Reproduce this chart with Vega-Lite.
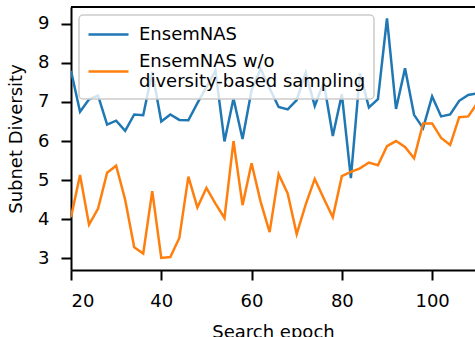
{
  "$schema": "https://vega.github.io/schema/vega-lite/v6.json",
  "width": 404,
  "height": 263,
  "autosize": {"type": "none"},
  "padding": {"left": 71, "top": 7, "right": 0, "bottom": 67},
  "background": "white",
  "config": {
    "view": {"stroke": null},
    "font": "DejaVu Sans",
    "axis": {
      "domainColor": "black",
      "domainWidth": 2,
      "tickColor": "black",
      "tickWidth": 2,
      "tickSize": 10,
      "labelColor": "black",
      "labelFontSize": 18,
      "labelFont": "DejaVu Sans",
      "titleColor": "black",
      "titleFontSize": 18,
      "titleFont": "DejaVu Sans",
      "titleFontWeight": "normal",
      "grid": false
    }
  },
  "datasets": {
    "series": [
      {"epoch": 20, "method": "EnsemNAS", "diversity": 7.8},
      {"epoch": 22, "method": "EnsemNAS", "diversity": 6.75},
      {"epoch": 24, "method": "EnsemNAS", "diversity": 7.07},
      {"epoch": 26, "method": "EnsemNAS", "diversity": 7.16},
      {"epoch": 28, "method": "EnsemNAS", "diversity": 6.42},
      {"epoch": 30, "method": "EnsemNAS", "diversity": 6.52},
      {"epoch": 32, "method": "EnsemNAS", "diversity": 6.26},
      {"epoch": 34, "method": "EnsemNAS", "diversity": 6.68},
      {"epoch": 36, "method": "EnsemNAS", "diversity": 6.66},
      {"epoch": 38, "method": "EnsemNAS", "diversity": 7.77},
      {"epoch": 40, "method": "EnsemNAS", "diversity": 6.5},
      {"epoch": 42, "method": "EnsemNAS", "diversity": 6.68},
      {"epoch": 44, "method": "EnsemNAS", "diversity": 6.54},
      {"epoch": 46, "method": "EnsemNAS", "diversity": 6.53},
      {"epoch": 48, "method": "EnsemNAS", "diversity": 6.97},
      {"epoch": 50, "method": "EnsemNAS", "diversity": 7.38},
      {"epoch": 52, "method": "EnsemNAS", "diversity": 7.8},
      {"epoch": 54, "method": "EnsemNAS", "diversity": 5.99},
      {"epoch": 56, "method": "EnsemNAS", "diversity": 7.09},
      {"epoch": 58, "method": "EnsemNAS", "diversity": 6.05},
      {"epoch": 60, "method": "EnsemNAS", "diversity": 7.3},
      {"epoch": 62, "method": "EnsemNAS", "diversity": 7.85},
      {"epoch": 64, "method": "EnsemNAS", "diversity": 7.35},
      {"epoch": 66, "method": "EnsemNAS", "diversity": 6.87},
      {"epoch": 68, "method": "EnsemNAS", "diversity": 6.81},
      {"epoch": 70, "method": "EnsemNAS", "diversity": 7.05},
      {"epoch": 72, "method": "EnsemNAS", "diversity": 7.75},
      {"epoch": 74, "method": "EnsemNAS", "diversity": 6.9},
      {"epoch": 76, "method": "EnsemNAS", "diversity": 7.5},
      {"epoch": 78, "method": "EnsemNAS", "diversity": 6.13},
      {"epoch": 80, "method": "EnsemNAS", "diversity": 7.2},
      {"epoch": 82, "method": "EnsemNAS", "diversity": 5.05},
      {"epoch": 84, "method": "EnsemNAS", "diversity": 7.73},
      {"epoch": 86, "method": "EnsemNAS", "diversity": 6.86},
      {"epoch": 88, "method": "EnsemNAS", "diversity": 7.07},
      {"epoch": 90, "method": "EnsemNAS", "diversity": 9.14},
      {"epoch": 92, "method": "EnsemNAS", "diversity": 6.82},
      {"epoch": 94, "method": "EnsemNAS", "diversity": 7.86},
      {"epoch": 96, "method": "EnsemNAS", "diversity": 6.67},
      {"epoch": 98, "method": "EnsemNAS", "diversity": 6.33},
      {"epoch": 100, "method": "EnsemNAS", "diversity": 7.14},
      {"epoch": 102, "method": "EnsemNAS", "diversity": 6.63},
      {"epoch": 104, "method": "EnsemNAS", "diversity": 6.68},
      {"epoch": 106, "method": "EnsemNAS", "diversity": 7.03},
      {"epoch": 108, "method": "EnsemNAS", "diversity": 7.18},
      {"epoch": 110, "method": "EnsemNAS", "diversity": 7.22},
      {"epoch": 20, "method": "EnsemNAS w/o diversity-based sampling", "diversity": 4.05},
      {"epoch": 22, "method": "EnsemNAS w/o diversity-based sampling", "diversity": 5.13},
      {"epoch": 24, "method": "EnsemNAS w/o diversity-based sampling", "diversity": 3.86},
      {"epoch": 26, "method": "EnsemNAS w/o diversity-based sampling", "diversity": 4.27},
      {"epoch": 28, "method": "EnsemNAS w/o diversity-based sampling", "diversity": 5.19},
      {"epoch": 30, "method": "EnsemNAS w/o diversity-based sampling", "diversity": 5.37},
      {"epoch": 32, "method": "EnsemNAS w/o diversity-based sampling", "diversity": 4.5},
      {"epoch": 34, "method": "EnsemNAS w/o diversity-based sampling", "diversity": 3.28},
      {"epoch": 36, "method": "EnsemNAS w/o diversity-based sampling", "diversity": 3.12},
      {"epoch": 38, "method": "EnsemNAS w/o diversity-based sampling", "diversity": 4.72},
      {"epoch": 40, "method": "EnsemNAS w/o diversity-based sampling", "diversity": 3.01},
      {"epoch": 42, "method": "EnsemNAS w/o diversity-based sampling", "diversity": 3.03},
      {"epoch": 44, "method": "EnsemNAS w/o diversity-based sampling", "diversity": 3.52},
      {"epoch": 46, "method": "EnsemNAS w/o diversity-based sampling", "diversity": 5.09},
      {"epoch": 48, "method": "EnsemNAS w/o diversity-based sampling", "diversity": 4.3},
      {"epoch": 50, "method": "EnsemNAS w/o diversity-based sampling", "diversity": 4.8},
      {"epoch": 52, "method": "EnsemNAS w/o diversity-based sampling", "diversity": 4.4},
      {"epoch": 54, "method": "EnsemNAS w/o diversity-based sampling", "diversity": 4.03},
      {"epoch": 56, "method": "EnsemNAS w/o diversity-based sampling", "diversity": 6.0},
      {"epoch": 58, "method": "EnsemNAS w/o diversity-based sampling", "diversity": 4.36},
      {"epoch": 60, "method": "EnsemNAS w/o diversity-based sampling", "diversity": 5.43},
      {"epoch": 62, "method": "EnsemNAS w/o diversity-based sampling", "diversity": 4.45},
      {"epoch": 64, "method": "EnsemNAS w/o diversity-based sampling", "diversity": 3.67},
      {"epoch": 66, "method": "EnsemNAS w/o diversity-based sampling", "diversity": 5.15},
      {"epoch": 68, "method": "EnsemNAS w/o diversity-based sampling", "diversity": 4.66},
      {"epoch": 70, "method": "EnsemNAS w/o diversity-based sampling", "diversity": 3.62},
      {"epoch": 72, "method": "EnsemNAS w/o diversity-based sampling", "diversity": 4.38},
      {"epoch": 74, "method": "EnsemNAS w/o diversity-based sampling", "diversity": 5.03},
      {"epoch": 76, "method": "EnsemNAS w/o diversity-based sampling", "diversity": 4.53},
      {"epoch": 78, "method": "EnsemNAS w/o diversity-based sampling", "diversity": 4.05},
      {"epoch": 80, "method": "EnsemNAS w/o diversity-based sampling", "diversity": 5.1},
      {"epoch": 82, "method": "EnsemNAS w/o diversity-based sampling", "diversity": 5.21},
      {"epoch": 84, "method": "EnsemNAS w/o diversity-based sampling", "diversity": 5.3},
      {"epoch": 86, "method": "EnsemNAS w/o diversity-based sampling", "diversity": 5.45},
      {"epoch": 88, "method": "EnsemNAS w/o diversity-based sampling", "diversity": 5.38},
      {"epoch": 90, "method": "EnsemNAS w/o diversity-based sampling", "diversity": 5.87},
      {"epoch": 92, "method": "EnsemNAS w/o diversity-based sampling", "diversity": 6.0},
      {"epoch": 94, "method": "EnsemNAS w/o diversity-based sampling", "diversity": 5.85},
      {"epoch": 96, "method": "EnsemNAS w/o diversity-based sampling", "diversity": 5.56},
      {"epoch": 98, "method": "EnsemNAS w/o diversity-based sampling", "diversity": 6.45},
      {"epoch": 100, "method": "EnsemNAS w/o diversity-based sampling", "diversity": 6.45},
      {"epoch": 102, "method": "EnsemNAS w/o diversity-based sampling", "diversity": 6.08},
      {"epoch": 104, "method": "EnsemNAS w/o diversity-based sampling", "diversity": 5.9},
      {"epoch": 106, "method": "EnsemNAS w/o diversity-based sampling", "diversity": 6.61},
      {"epoch": 108, "method": "EnsemNAS w/o diversity-based sampling", "diversity": 6.63},
      {"epoch": 110, "method": "EnsemNAS w/o diversity-based sampling", "diversity": 6.97}
    ],
    "frame": [{"top": 9.43}]
  },
  "layer": [
    {
      "data": {"name": "series"},
      "mark": {"type": "line", "strokeWidth": 2.5, "clip": true},
      "encoding": {
        "x": {
          "field": "epoch",
          "type": "quantitative",
          "scale": {"domain": [20, 109.5], "nice": false, "zero": false},
          "axis": {"values": [20, 40, 60, 80, 100], "title": "Search epoch", "labelPadding": 12, "titlePadding": 13}
        },
        "y": {
          "field": "diversity",
          "type": "quantitative",
          "scale": {"domain": [2.7, 9.43], "nice": false, "zero": false},
          "axis": {"values": [3, 4, 5, 6, 7, 8, 9], "title": "Subnet Diversity", "labelPadding": 12, "titlePadding": 12}
        },
        "color": {
          "field": "method",
          "type": "nominal",
          "scale": {"domain": ["EnsemNAS", "EnsemNAS w/o diversity-based sampling"], "range": ["#1f77b4", "#ff7f0e"]},
          "legend": {
            "title": null,
            "orient": "none",
            "legendX": 8,
            "legendY": 8,
            "symbolType": "M-2,0H2",
            "symbolSize": 400,
            "symbolStrokeWidth": 2.5,
            "symbolOffset": 10,
            "labelFontSize": 18,
            "labelFont": "DejaVu Sans",
            "labelColor": "black",
            "labelLimit": 0,
            "labelOffset": 19,
            "labelExpr": "datum.label == 'EnsemNAS' ? 'EnsemNAS' : ['EnsemNAS w/o', 'diversity-based sampling']",
            "rowPadding": 6,
            "padding": 8,
            "fillColor": "rgba(255,255,255,0.8)",
            "strokeColor": "#cccccc",
            "cornerRadius": 4,
            "encode": {
              "legend": {"update": {"strokeWidth": {"value": 1.5}}},
              "labels": {"update": {"lineHeight": {"value": 20}}},
              "symbols": {"update": {"shape": {"signal": "datum.value == 'EnsemNAS' ? 'M-2,0H2' : 'M-2,1H2'"}}}
            }
          }
        }
      }
    },
    {
      "data": {"name": "frame"},
      "mark": {"type": "rule", "color": "black", "strokeWidth": 2},
      "encoding": {"y": {"field": "top", "type": "quantitative"}}
    }
  ]
}
